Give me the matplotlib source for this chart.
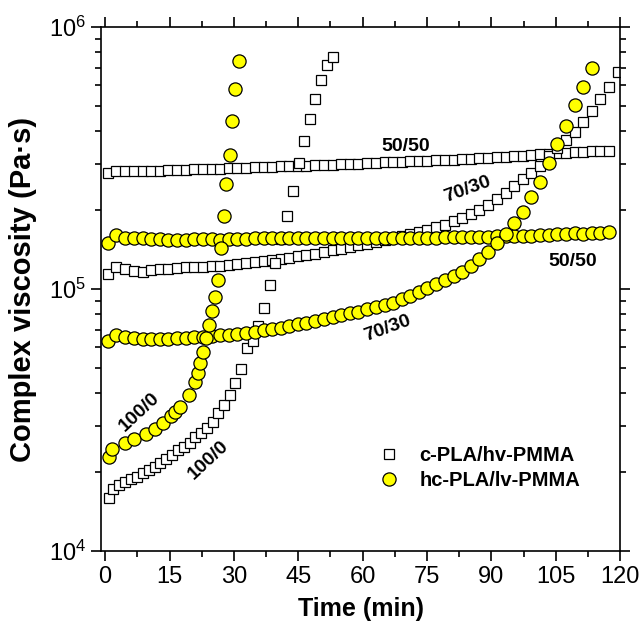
import numpy as np
import matplotlib
matplotlib.use("Agg")
import matplotlib.pyplot as plt
from matplotlib.ticker import LogLocator, NullFormatter, MultipleLocator

plt.rcParams['font.family'] = ['Liberation Sans', 'DejaVu Sans']
plt.rcParams['mathtext.fontset'] = 'custom'
plt.rcParams['mathtext.rm'] = 'Liberation Sans Narrow'

# sampling times (min) for the 70/30 and 50/50 runs
t_grid = [0.6, 2.6, 4.7, 6.7, 8.7, 10.7, 12.7, 14.7, 16.7, 18.8,
          20.8, 22.8, 24.8, 26.8, 28.8, 30.8, 32.9, 34.9, 36.9, 38.9,
          40.9, 42.9, 44.9, 46.9, 49.0, 51.0, 53.0, 55.0, 57.0, 59.0,
          61.0, 63.1, 65.1, 67.1, 69.1, 71.1, 73.1, 75.1, 77.2, 79.2,
          81.2, 83.2, 85.2, 87.2, 89.2, 91.3, 93.3, 95.3, 97.3, 99.3,
          101.3, 103.3, 105.3, 107.4, 109.4, 111.4, 113.4, 115.4, 117.4, 119.5]

# c-PLA/hv-PMMA, complex viscosity (Pa.s)
c_5050 = [277000, 283000, 282000, 282000, 282000, 282000, 283000, 284000, 284000, 285000,
          286000, 286000, 287000, 288000, 289000, 289000, 290000, 291000, 292000, 293000,
          294000, 295000, 295000, 296000, 297000, 297000, 298000, 299000, 300000, 301000,
          302000, 303000, 304000, 305000, 306000, 307000, 308000, 309000, 310000, 311000,
          312000, 313000, 314000, 315000, 317000, 318000, 320000, 322000, 323000, 325000,
          327000, 328000, 330000, 331000, 332000, 333000, 335000, 336000, 337000]
c_7030 = [114000, 121000, 119000, 117500, 116400, 118000, 119000, 119700, 120200, 121000,
          121600, 121600, 121900, 122500, 123900, 125000, 125600, 126800, 127900, 129400,
          130600, 131800, 133400, 134900, 136500, 138400, 140300, 142200, 144200, 146600,
          148600, 151000, 153500, 156000, 158900, 161800, 164800, 168300, 171800, 176200,
          181100, 187100, 193600, 200400, 209900, 220800, 231700, 246600, 263000, 277300,
          295100, 322100, 346700, 370700, 398100, 435500, 479700, 529700, 591600, 671400]
c_1000_t = [0.8, 1.9, 3.3, 4.7, 6.0, 7.4, 8.8, 10.1, 11.5, 12.8,
            14.2, 15.6, 16.9, 18.3, 19.7, 21.0, 22.4, 23.7, 25.1, 26.4,
            27.6, 29.0, 30.3, 31.6, 33.0, 34.4, 35.7, 37.1, 38.3, 39.6,
            41.0, 42.4, 43.7, 45.1, 46.4, 47.8, 49.0, 50.4, 51.7, 53.1]
c_1000 = [15900, 17300, 17900, 18300, 18800, 19200, 19800, 20400, 21000, 21600,
          22400, 23200, 24200, 25000, 25900, 27200, 28100, 29400, 31200, 33600,
          36100, 39400, 43900, 49300, 59700, 63100, 72400, 84300, 104000, 126000,
          155000, 190000, 237000, 302000, 368000, 446000, 530000, 628000, 716000, 766000]

# hc-PLA/lv-PMMA
hc_5050 = [150000, 161000, 157000, 157000, 156000, 155000, 155000, 154000, 154000, 154000,
           155000, 155000, 155000, 154000, 155000, 155000, 155000, 156000, 156000, 156000,
           156000, 156000, 156000, 156000, 156000, 156000, 156000, 156000, 156000, 156000,
           157000, 157000, 157000, 157000, 157000, 157000, 157000, 157000, 157000, 158000,
           158000, 158000, 158000, 158000, 158000, 159000, 160000, 159000, 159000, 160000,
           161000, 161000, 162000, 162000, 163000, 162000, 163000, 164000, 165000]
hc_7030 = [63500, 66700, 65500, 64900, 64300, 64300, 64300, 64600, 64900, 64900,
           65500, 65600, 66100, 66500, 67000, 67500, 68100, 68700, 69500, 70100,
           71100, 72300, 73300, 74300, 75500, 76700, 78200, 79400, 80800, 82000,
           83900, 85500, 86900, 88700, 91600, 94400, 97000, 100700, 104200, 108100,
           112200, 116400, 122500, 129700, 139000, 149300, 162200, 178200, 197200, 223900,
           257000, 302000, 356500, 419800, 502300, 588800, 695000]
hc_1000_t = [0.8, 1.5, 4.7, 6.6, 9.4, 11.5, 13.5, 15.4, 16.3, 17.4,
             19.5, 21.0, 21.6, 22.2, 22.8, 23.5, 24.3, 24.9, 25.5, 26.2,
             27.0, 27.6, 28.2, 29.0, 29.6, 30.2, 31.1]
hc_1000 = [22800, 24500, 25800, 26700, 28000, 29200, 30800, 32700, 33800, 35500,
           39400, 44300, 48000, 52000, 57500, 65000, 73000, 82400, 93500, 108000,
           143000, 190000, 252000, 324000, 436000, 578000, 743000]

fig = plt.figure(figsize=(6.44, 6.28), dpi=100)
ax = fig.add_axes([0.157, 0.1226, 0.806, 0.8344])

sq = dict(marker='s', ms=7.4, mfc='white', mec='black', mew=0.9, ls='none')
ci = dict(marker='o', ms=9.5, mfc='#ffff00', mec='black', mew=0.9, ls='none')

ax.plot(t_grid[:len(c_5050)], c_5050, **sq)
ax.plot(t_grid[:len(c_7030)], c_7030, **sq)
ax.plot(c_1000_t, c_1000, label='c-PLA/hv-PMMA', **sq)
ax.plot(t_grid[:len(hc_5050)], hc_5050, **ci)
ax.plot(t_grid[:len(hc_7030)], hc_7030, **ci)
ax.plot(hc_1000_t, hc_1000, label='hc-PLA/lv-PMMA', **ci)

ax.set_yscale('log')
ax.set_xlim(-0.95, 120)
ax.set_ylim(1e4, 1e6)
ax.xaxis.set_major_locator(MultipleLocator(15))
ax.xaxis.set_minor_locator(MultipleLocator(7.5))
ax.yaxis.set_minor_locator(LogLocator(base=10, subs=np.arange(2, 10)))
ax.yaxis.set_minor_formatter(NullFormatter())

ax.tick_params(which='both', direction='out', top=True, right=True, width=1.2)
ax.tick_params(which='major', length=7, labelsize=17, pad=4)
ax.tick_params(which='minor', length=4)
for lbl in ax.get_xticklabels() + ax.get_yticklabels():
    lbl.set_family(['Liberation Sans Narrow', 'Liberation Sans'])
for s in ax.spines.values():
    s.set_linewidth(1.2)

ax.set_xlabel('Time (min)', fontsize=18, fontweight='bold', labelpad=6)
ax.set_ylabel('Complex viscosity (Pa·s)', fontsize=21, fontweight='bold', labelpad=8)

# series labels
lab = dict(fontsize=14, fontweight='bold', ha='center', va='center')
ax.text(70, 3.5e5, '50/50', **lab)
ax.text(84.5, 2.4e5, '70/30', rotation=20, **lab)
ax.text(109, 1.27e5, '50/50', **lab)
ax.text(65.8, 7.1e4, '70/30', rotation=20, **lab)
ax.text(8, 3.4e4, '100/0', rotation=43, **lab)
ax.text(24, 2.22e4, '100/0', rotation=43, **lab)

ax.legend(loc='center left', bbox_to_anchor=(0.52, 0.158), frameon=False,
          prop={'weight': 'bold', 'size': 14.5}, handlelength=1.0,
          handletextpad=1.0, labelspacing=0.3, borderaxespad=0)

fig.savefig('out.png', dpi=100)
